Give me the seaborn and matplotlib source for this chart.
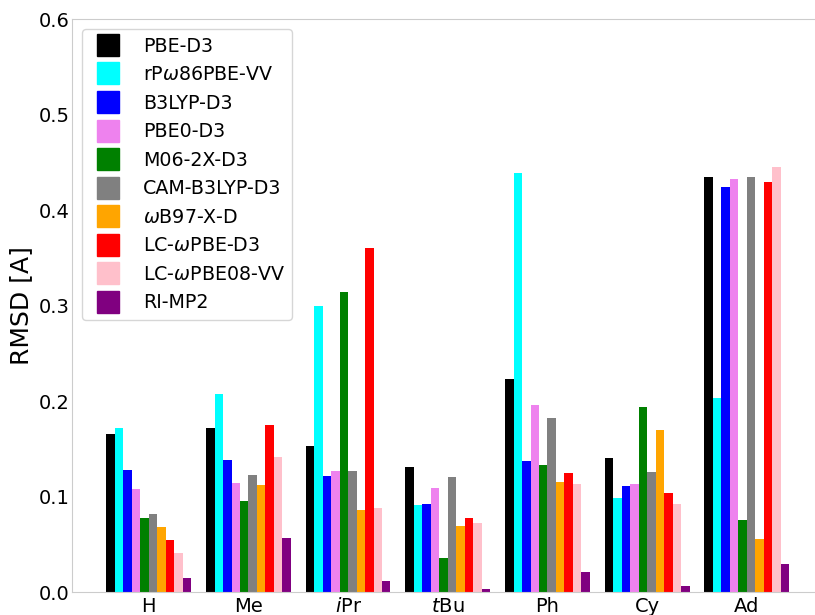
import pandas as pd
import seaborn as sns
import matplotlib.pyplot as plt
from matplotlib.lines import Line2D

# substituents on the x axis
groups = ["H", "Me", "iPr", "tBu", "Ph", "Cy", "Ad"]
group_labels = ["H", "Me", "$i$Pr", "$t$Bu", "Ph", "Cy", "Ad"]

methods = ["PBE-D3", "rP$\\omega$86PBE-VV", "B3LYP-D3", "PBE0-D3", "M06-2X-D3",
           "CAM-B3LYP-D3", "$\\omega$B97-X-D", "LC-$\\omega$PBE-D3",
           "LC-$\\omega$PBE08-VV", "RI-MP2"]
colors = ["black", "cyan", "blue", "violet", "green",
          "gray", "orange", "red", "pink", "purple"]

# RMSD values, one list per method (order of groups)
pbe_d3 = [0.166, 0.172, 0.153, 0.131, 0.223, 0.141, 0.435]
rpw86pbe_vv = [0.172, 0.208, 0.300, 0.091, 0.439, 0.099, 0.204]
b3lyp_d3 = [0.128, 0.139, 0.122, 0.092, 0.138, 0.111, 0.425]
pbe0_d3 = [0.108, 0.115, 0.127, 0.109, 0.196, 0.113, 0.433]
m062x_d3 = [0.078, 0.096, 0.315, 0.036, 0.133, 0.194, 0.076]
camb3lyp_d3 = [0.082, 0.123, 0.127, 0.121, 0.183, 0.126, 0.435]
wb97xd = [0.068, 0.112, 0.086, 0.069, 0.116, 0.170, 0.056]
lcwpbe_d3 = [0.055, 0.175, 0.361, 0.078, 0.125, 0.104, 0.430]
lcwpbe08_vv = [0.041, 0.142, 0.088, 0.073, 0.113, 0.093, 0.446]
ri_mp2 = [0.015, 0.057, 0.012, 0.003, 0.021, 0.007, 0.030]

series = [pbe_d3, rpw86pbe_vv, b3lyp_d3, pbe0_d3, m062x_d3,
          camb3lyp_d3, wb97xd, lcwpbe_d3, lcwpbe08_vv, ri_mp2]

rows = []
for method, values in zip(methods, series):
    for group, value in zip(groups, values):
        rows.append((group, method, value))
df = pd.DataFrame(rows, columns=["group", "method", "rmsd"])

sns.set_style("whitegrid")
plt.rcParams.update({"text.color": "black", "axes.labelcolor": "black",
                     "xtick.color": "black", "ytick.color": "black"})
fig = plt.figure(figsize=(8.15, 6.15), dpi=100)
ax = fig.add_axes([0.0887, 0.0369, 0.9215, 0.9314])

sns.barplot(data=df, x="group", y="rmsd", hue="method", order=groups,
            hue_order=methods, palette=colors, width=0.85, linewidth=0,
            saturation=1, legend=False, ax=ax)

ax.grid(False)
ax.set_xlim(-0.7675, 6.7675)
ax.set_ylim(0, 0.6)
ax.set_xticks(range(len(groups)))
ax.set_xticklabels(group_labels)
ax.tick_params(axis="both", labelsize=14, length=0, colors="black")
ax.tick_params(axis="y", pad=2)
ax.tick_params(axis="x", pad=3.5)
ax.set_xlabel("")
ax.set_ylabel("RMSD [A]", fontsize=18)

handles = [Line2D([], [], marker="s", linestyle="none", markersize=15.6,
                  markerfacecolor=c, markeredgecolor=c) for c in colors]
ax.legend(handles, methods, loc="upper left", fontsize=13.7)

fig.savefig("out.png", dpi=100)
